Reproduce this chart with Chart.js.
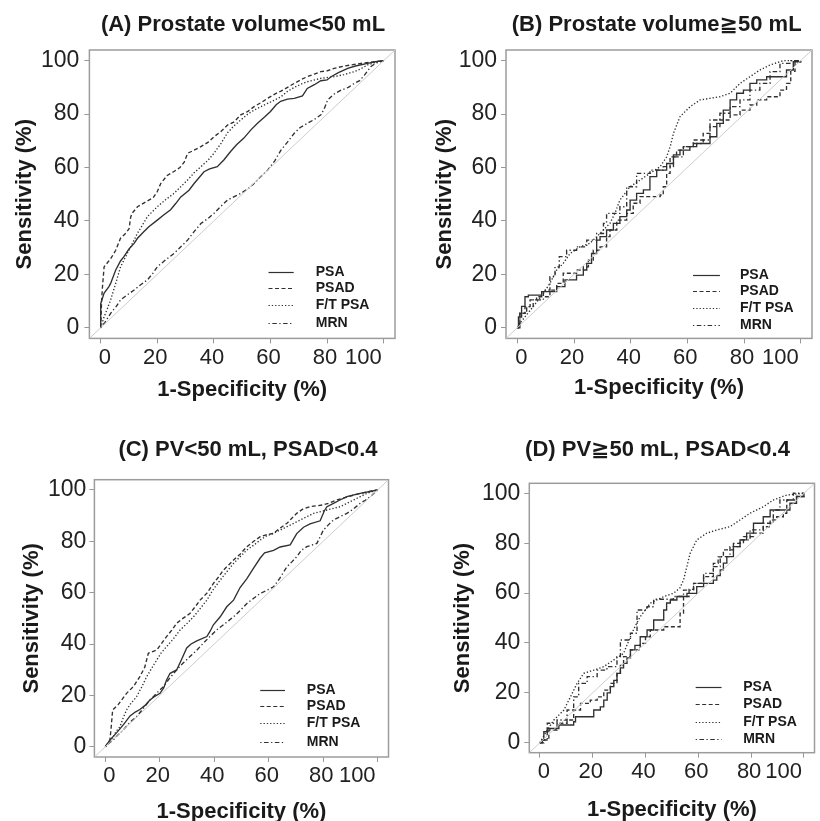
<!DOCTYPE html>
<html><head><meta charset="utf-8">
<script src="https://cdn.jsdelivr.net/npm/chart.js@4.4.1/dist/chart.umd.min.js"></script>
<style>
html,body{margin:0;padding:0;background:#fff;overflow:hidden;width:820px;height:821px}
#wrap{position:relative;width:820px;height:821px;overflow:hidden;background:#fff}
canvas{position:absolute}
</style></head><body><div id="wrap">
<canvas id="cA" width="410" height="410" style="left:0;top:0"></canvas>
<canvas id="cB" width="420" height="410" style="left:410px;top:0"></canvas>
<canvas id="cC" width="410" height="430" style="left:0;top:410px"></canvas>
<canvas id="cD" width="420" height="430" style="left:410px;top:410px"></canvas>
</div>
<script>
// ---------- data ----------
const seriesNames = ['PSA', 'PSAD', 'F/T PSA', 'MRN'];
const tickValues = [0, 20, 40, 60, 80, 100];
const panelTitles = ['(A) Prostate volume<50 mL', '(B) Prostate volume\u226750 mL', '(C) PV<50 mL, PSAD<0.4', '(D) PV\u226750 mL, PSAD<0.4'];
const xAxisTitle = '1-Specificity (%)';
const yAxisTitle = 'Sensitivity (%)';
const diagonal = [[-4, -4], [104, 104]];

// Panel A  [1-specificity, sensitivity]
const A_PSA = [[0,0],[0,9],[0.6,11],[1.2,13],[2.9,15.4],[3.5,16.6],[5.3,21.6],[7,25],[8.2,26.6],[10,29.5],[11.8,31.6],[13,33.5],[15.3,36],[17,37.8],[20,40.3],[22,42],[24.7,44.2],[26.5,46.5],[28.3,49],[31.2,51.5],[33,54],[36.5,58.4],[38.5,59.5],[41.2,60.3],[43.5,62.8],[45.9,66],[48,68.5],[50.6,71],[53,74],[55.4,76.6],[58,79],[60,81],[62,83.5],[63.6,84.8],[66,85.6],[68.4,85.9],[71.3,86.8],[73,89.6],[75.5,91],[77.8,92.5],[80,92.8],[81.4,94],[84,95.5],[87.3,97.1],[90,98],[94.3,99],[97,99.6],[100,100]];
const A_PSAD = [[0,0],[0.3,10],[0.6,15],[1.2,22.8],[2.5,24.5],[3.5,25.8],[5.3,29],[7,33.5],[8.5,35],[10,37],[10.6,41.5],[11.2,43],[13,45.3],[16.5,47.5],[18.5,48.6],[20,51],[21.2,54],[23.5,57],[25.9,58.5],[28,60],[29.5,62],[30.7,65.3],[33,66.5],[35.4,67.8],[38,69.5],[40,71.5],[42.5,73.5],[44.8,75.9],[47,77],[49.5,79.7],[52,81],[54.2,82.8],[57,84.5],[59,85.9],[61.5,87.5],[63.7,88.6],[66,90],[68.4,91.5],[71,93],[73,94],[75.5,95],[77.8,95.9],[80,96.2],[82.5,97.1],[86,98],[89.6,98.6],[94,99.3],[100,100]];
const A_FT = [[0,0],[1.2,4.1],[2.3,7],[3.5,10.4],[5.3,16.6],[7,22.8],[8.8,26.6],[11.2,31.6],[13,35.4],[14.5,38],[16.5,41.6],[20,45.3],[23,48],[25.9,50.3],[28,52.5],[30.7,55.3],[33,58],[35.4,60.3],[38,62.8],[40,65.3],[42.5,69],[44.8,73],[47,75.5],[49.5,77.8],[52,80],[54.2,81.5],[57,83],[59,84],[61.5,85.3],[63.7,86.5],[66,88.5],[68.4,90],[71,91.3],[73,92.1],[77.8,93.4],[82.5,94],[86,94.8],[89.6,95.9],[92,97],[94.3,98.4],[97,99.3],[100,100]];
const A_MRN = [[0,0],[1.5,2],[3.5,5.4],[5.5,8],[7,10.4],[9,12],[11.8,14.1],[14,16],[16.5,17.9],[18.5,20.5],[20,22.8],[23,25.5],[25.9,27.8],[28.5,30.5],[30.7,32.8],[33,36],[35.4,39],[38,41],[40,42.8],[42.5,45.5],[44.8,47.8],[47,49],[49.5,50.3],[52,52],[54.2,54],[56.5,56.5],[59,59],[61.5,62.5],[63.7,66.5],[66,69.5],[68.4,72.8],[70.5,75],[73,76.5],[75.5,78],[77.8,79.7],[79,82],[80.2,85.3],[82.5,87.5],[85,89],[87.5,90],[89.6,91.5],[91.5,92.5],[93.2,94.6],[95.5,97.8],[97.5,99.2],[100,100]];

// Panel B
const B_PSA = [[0,0],[0.4,4],[1.5,8],[2.7,11.6],[3.9,12.2],[8.6,13.5],[13.9,15.4],[16.8,17.9],[20.9,19.7],[23.3,21.6],[24.5,24.1],[26.2,27.8],[28,32.8],[29.2,34.1],[31.5,36.6],[33.9,39.1],[36.2,41.6],[38.6,44.1],[39.8,47.8],[42.1,50.3],[44.5,51.6],[46.8,56.6],[49.2,59],[52.7,61.5],[55.1,64.7],[57.4,66.5],[60.9,67.8],[63.3,69],[68,71.5],[70.4,76.5],[72.7,81.5],[75.1,85.3],[77.4,87.8],[79.8,89],[82.1,91.5],[84.5,92.8],[88,94],[95,96.5],[97.4,99.6],[100,100]];
const B_PSAD = [[0,0],[0.9,5.4],[2.7,7.9],[4.5,10.4],[6.8,11.6],[11.5,14.1],[13.9,16.6],[16.2,20.4],[20.9,21.6],[23.3,22.8],[25.1,25.3],[26.8,29],[29.2,30.3],[31.5,34.1],[32.7,36.6],[35.1,40.3],[38.6,42.8],[40.9,46.6],[43.3,49.1],[50.4,49.7],[51.5,52.8],[52.7,57.8],[53.9,64],[56.2,66.5],[58.6,67.8],[62.1,70.3],[65.6,72.8],[68,75.3],[71.5,77.8],[75.1,79.7],[78.6,81.5],[82.1,83.4],[84.5,85.3],[88,86.5],[92.7,89],[95,91.5],[96.5,96],[98,99.6],[100,100]];
const B_FT = [[0,0],[0.9,1.6],[2.7,4.1],[5.6,7.9],[9.2,12.9],[11.5,16.6],[13.9,21.6],[16.2,24.1],[18.6,27.8],[22.1,30.3],[25.6,31.6],[29.2,35.3],[32.7,39.1],[34.5,43],[36.2,47.8],[39.8,52.8],[43.3,55.3],[46.8,57.8],[50.4,60.3],[52.7,64],[54,68],[55.1,72.8],[57.4,79],[61,82.8],[64.5,85.3],[68,85.9],[71.5,86.5],[75.1,87.8],[78.6,91.5],[82.1,94],[85.6,96.5],[89.2,98.4],[93.9,100],[100,100]];
const B_MRN = [[0,0],[0.9,5.4],[3.3,7.9],[5.6,10.4],[9.2,14.1],[11.5,19.1],[13.3,22.8],[14.8,26.6],[17.4,29],[20.9,30.3],[24.5,32.8],[28,35.3],[30.4,39.1],[31.5,42.8],[36.2,45.3],[38.6,52.8],[42.1,57.8],[46.8,59],[51.5,60.3],[55.1,64],[58.6,67.8],[62.1,69],[65.6,70.3],[68,77.8],[71.5,80.3],[75.1,82.8],[78.6,85.3],[82.1,89],[85.6,91.5],[89.2,95.9],[92.7,99],[96.2,100],[100,100]];

// Panel C
const C_PSA = [[0,0],[1.7,2.6],[4.2,5.5],[6.6,8.5],[9.1,12],[11,13.5],[12.7,14.5],[14.5,16],[16.4,18.2],[18,19.5],[20.1,20.8],[21.5,23],[22.5,26],[23.8,28.6],[26.2,29.9],[28,34],[29.9,38.5],[31.5,40],[33.6,41.2],[37.3,42.9],[38.5,45],[39.7,47.5],[42.2,50.6],[44.6,54.5],[47.1,57.1],[49.5,62],[52,65.5],[54.4,69.5],[56.9,73.5],[58.5,75.5],[61.8,76.5],[64.2,77.8],[67.9,78.6],[70.3,83],[72.8,85.5],[75.2,86.8],[78.9,88],[80.5,92],[81.4,93.5],[83.8,94.8],[86,96],[88.7,97.4],[93.6,98.7],[100,100]];
const C_PSAD = [[0,0],[1.7,2.6],[2.2,8],[2.7,14.3],[4.8,16.5],[6,18.2],[7.8,20.8],[10.3,23.4],[12.7,27.3],[14.5,31],[15.8,36.4],[18.9,37.7],[20.5,40],[22.5,42.9],[24.5,45.5],[26.2,48.1],[28.5,50],[31.1,51.9],[33,54.5],[34.8,57.1],[37.5,60],[39.7,63.6],[41.5,66],[43.4,68.8],[45.5,71],[47.1,72.7],[49.5,75],[52,77.9],[54.5,80],[56.9,81.8],[59,82.5],[61.8,83.1],[64,85],[66.7,87],[68.5,89],[70.3,90.9],[72.5,92.5],[75.2,93.5],[80.1,94.2],[82.5,95],[85,96.1],[88,97],[91.2,98],[95,99],[100,100]];
const C_FT = [[0,0],[1.5,1.8],[2.9,3.9],[4,6],[5.4,7.8],[6.5,11],[7.8,14.3],[9.5,17],[11.5,19.5],[13.5,23.5],[15.2,27.3],[17,30.5],[18.9,33.8],[20.5,36.5],[22.5,39],[25,42],[27.5,45.5],[30,48],[32.4,50.6],[35,54],[37.3,57.1],[39.5,61],[42.2,64.9],[44.5,68],[47.1,71.4],[49.5,74],[52,76.6],[54.5,78.5],[56.9,80.5],[59,82],[61.8,83.1],[66.7,85.7],[71.6,88.3],[76.5,90.9],[81.4,92.2],[86.3,93.5],[91.2,96.1],[96.1,98.7],[100,100]];
const C_MRN = [[0,0],[1.5,1.5],[2.9,2.6],[4.5,4.5],[6.6,6.5],[9,9.5],[11.5,11.7],[14,15],[16.4,18.2],[19,21],[21.3,23.4],[23.5,26.5],[26.2,29.9],[28.5,32.5],[31.1,35.1],[33.5,37.5],[36,40.3],[38.5,43],[40.9,45.5],[44,48],[47.1,50.6],[49.5,53],[52,55.8],[54.5,57.8],[56.9,59.7],[59.5,61],[61.8,62.3],[64,65.5],[66.7,70.1],[68.5,72],[70.3,74],[72,76.5],[74,77.9],[77.7,79.2],[79,82],[80.1,84.4],[82,86.5],[83.8,88.3],[86,89.5],[88.7,90.9],[91,92.5],[93.6,94.8],[95.5,96],[97.3,97.4],[100,100]];

// Panel D
const D_PSA = [[0,0],[0.9,1.1],[1.5,4.4],[2.8,5.7],[7.2,7.1],[12.8,8.4],[13.5,10.4],[20.4,13.1],[22.9,14.4],[24.2,17.1],[25.5,20],[26.7,22.5],[28,25],[29.2,27.8],[30.5,30],[31.7,31.8],[33,34],[34.3,37.2],[36,39],[38,42.5],[40.6,45.2],[43.1,49.2],[46.9,53.2],[48,56],[49.4,57.2],[51.9,58.6],[55.7,59.9],[59.4,62.6],[62,63.9],[65.7,65.2],[67,67],[68.3,69.3],[69.5,72],[70.8,74.6],[73.3,78.6],[75.8,81.3],[78.3,84],[80.9,88],[84.6,90.6],[87.2,93.3],[94.7,96],[97.2,98.7],[100,100]];
const D_PSAD = [[0,0],[1.5,1.1],[3.4,5.1],[6.5,7.8],[10.3,9.1],[12.8,13.1],[15.4,15.8],[19.1,17.1],[21.7,18.4],[24.2,21.1],[26.7,23.8],[29.2,27.8],[30.5,31],[31.7,34.5],[34.3,37.2],[38,39.8],[40,42.5],[41.8,45.2],[46.9,46.5],[53.1,51.9],[54.4,58.6],[56.5,61.5],[58.2,63.9],[62,66.6],[65.7,71.9],[67.5,74.5],[69.5,77.3],[73.3,79.9],[77.1,82.6],[80.9,84],[84.6,86.6],[87.2,89.3],[89.7,90.6],[92.2,92],[93.5,97.3],[97.2,98.7],[100,100]];
const D_FT = [[0,0],[0.9,1.7],[2.8,5.1],[5.3,9.1],[9.1,13.1],[11.6,18.4],[14.1,23.8],[16.6,27.8],[20.4,29.1],[24.2,30.5],[28,33.2],[31.7,35.8],[34.3,42.5],[36,46.5],[38,50.5],[41.8,55.9],[46.9,58.6],[50.6,59.9],[53,62],[54.4,65.2],[56.9,75.9],[59.4,81.3],[63.2,84],[67,85.3],[72,86.6],[75.8,89.3],[79.6,92],[84.6,94.6],[88.4,97.3],[93.5,99.3],[100,100]];
const D_MRN = [[0,0],[0.9,1.1],[2.8,7.8],[6.5,9.1],[10.3,13.1],[12.8,18.4],[14.7,23.8],[17.9,26.5],[21.7,29.1],[25.4,30.5],[29.2,34.5],[30.5,41.2],[34.3,43.9],[36.8,53.2],[40.6,54.5],[43.1,57.5],[50.6,58.6],[54.4,61.2],[58.2,63.9],[62,67.9],[65.7,70.6],[68.3,74.6],[72,78.6],[75.8,81.3],[79.6,85.3],[84.6,88],[88.4,93.3],[90.9,97.3],[96,100],[100,100]];

// ---------- styles ----------
const FONT = "'Liberation Sans', Arial, Helvetica, 'DejaVu Sans', sans-serif";
const LINE_COLOR = '#303030';
const dashStyles = [[], [4, 2.5], [1.3, 2], [1.3, 2.5, 4.5, 2.5]];

const framePlugin = {
  id: 'frameBox',
  beforeDatasetsDraw(chart) {
    const a = chart.chartArea, ctx = chart.ctx;
    ctx.save();
    ctx.strokeStyle = '#9c9c9c';
    ctx.lineWidth = 1.5;
    ctx.strokeRect(a.left, a.top, a.right - a.left, a.bottom - a.top);
    ctx.restore();
  }
};
const titlePlugin = {
  id: 'panelTitle',
  afterDraw(chart, args, opts) {
    const ctx = chart.ctx;
    ctx.save();
    ctx.font = 'bold 22px ' + FONT;
    ctx.fillStyle = '#1a1a1a';
    ctx.textAlign = 'center';
    ctx.textBaseline = 'middle';
    ctx.fillText(opts.text, opts.x, opts.y);
    ctx.restore();
  }
};
const legendPlugin = {
  id: 'innerLegend',
  afterDatasetsDraw(chart, args, opts) {
    const ctx = chart.ctx, xs = chart.scales.x, ys = chart.scales.y;
    ctx.save();
    chart.data.datasets.forEach(ds => {
      const i = seriesNames.indexOf(ds.label);
      if (i < 0) return;
      const y = Math.round(ys.getPixelForValue(opts.rows[i])) + 0.5;
      ctx.strokeStyle = LINE_COLOR;
      ctx.lineWidth = 1.2;
      ctx.setLineDash(ds.borderDash || []);
      ctx.beginPath();
      ctx.moveTo(xs.getPixelForValue(opts.x0), y);
      ctx.lineTo(xs.getPixelForValue(opts.x1), y);
      ctx.stroke();
      ctx.setLineDash([]);
      ctx.font = 'bold 14px ' + FONT;
      ctx.fillStyle = '#1a1a1a';
      ctx.textAlign = 'left';
      ctx.textBaseline = 'middle';
      ctx.fillText(ds.label, xs.getPixelForValue(opts.xt), y);
    });
    ctx.restore();
  }
};

function toXY(arr) { return arr.map(p => ({x: p[0], y: p[1]})); }

function makePanel(canvasId, title, series, stepFlags, L) {
  const datasets = [{
    label: 'diag', data: toXY(diagonal), borderColor: '#cdcdcd', borderWidth: 1,
    pointRadius: 0, showLine: true, fill: false
  }];
  series.forEach((s, i) => datasets.push({
    label: seriesNames[i], data: toXY(s), borderColor: LINE_COLOR, borderWidth: 1.35,
    borderDash: dashStyles[i], pointRadius: 0, showLine: true, fill: false,
    stepped: stepFlags[i] ? 'before' : false, tension: 0
  }));
  const axisCommon = (isX) => ({
    type: 'linear', min: -4, max: 104,
    afterBuildTicks: s => { s.ticks = tickValues.map(v => ({value: v})); },
    grid: { display: true, drawOnChartArea: false, drawTicks: true, tickLength: 5, color: '#999', lineWidth: 1 },
    border: { display: false },
    ticks: isX
      ? { font: { family: FONT, size: 22 }, color: '#222', padding: 1, maxRotation: 0, autoSkip: false, align: 'inner', labelOffset: -2 }
      : { font: { family: FONT, size: 23 }, color: '#222', padding: L.yTickPad, autoSkip: false },
    title: {
      display: true, text: isX ? xAxisTitle : yAxisTitle, color: '#1a1a1a',
      font: { family: FONT, size: 22, weight: 'bold' },
      padding: isX ? { top: 0, bottom: L.xTitlePad } : { top: L.yTitlePad, bottom: 0 }
    },
    afterFit: isX ? (s => { s.height = L.xHeight; }) : (s => { s.width = L.yWidth; })
  });
  return new Chart(document.getElementById(canvasId), {
    type: 'scatter',
    data: { datasets },
    options: {
      responsive: false, animation: false, devicePixelRatio: 1,
      layout: { padding: { top: L.padTop, right: L.padRight, left: 0, bottom: 0 } },
      scales: { x: axisCommon(true), y: axisCommon(false) },
      plugins: {
        legend: { display: false }, tooltip: { enabled: false }, title: { display: false },
        panelTitle: { text: title, x: L.titleX, y: L.titleY },
        innerLegend: L.legend
      }
    },
    plugins: [framePlugin, titlePlugin, legendPlugin]
  });
}

makePanel('cA', panelTitles[0], [A_PSA, A_PSAD, A_FT, A_MRN], [false, false, false, false], {
  padTop: 50, padRight: 15, yWidth: 89.4, xHeight: 71.6, yTitlePad: 11.8, xTitlePad: 6.8, yTickPad: 5,
  titleX: 243, titleY: 25, legend: { x0: 59.3, x1: 68.2, xt: 76, rows: [21, 14.8, 8.5, 1.9] }
});
makePanel('cB', panelTitles[1], [B_PSA, B_PSAD, B_FT, B_MRN], [true, true, false, true], {
  padTop: 50, padRight: 18, yWidth: 96, xHeight: 71.6, yTitlePad: 21.8, xTitlePad: 8.5, yTickPad: 4,
  titleX: 246.7, titleY: 25, legend: { x0: 62, x1: 71.5, xt: 78.6, rows: [19.7, 13.8, 7.3, 1.0] }
});
makePanel('cC', panelTitles[2], [C_PSA, C_PSAD, C_FT, C_MRN], [false, false, false, false], {
  padTop: 69.7, padRight: 21.5, yWidth: 94.4, xHeight: 83, yTitlePad: 18.5, xTitlePad: 15.1, yTickPad: 3,
  titleX: 248, titleY: 40, legend: { x0: 56.9, x1: 66, xt: 74, rows: [22.1, 15.9, 9.1, 1.9] }
});
makePanel('cD', panelTitles[3], [D_PSA, D_PSAD, D_FT, D_MRN], [true, true, false, true], {
  padTop: 73.3, padRight: 15.5, yWidth: 119.3, xHeight: 87.3, yTitlePad: 40.1, xTitlePad: 16.8, yTickPad: 4,
  titleX: 247.5, titleY: 40, legend: { x0: 59, x1: 68.8, xt: 77, rows: [22.5, 15.5, 8.5, 1.6] }
});
</script></body></html>
